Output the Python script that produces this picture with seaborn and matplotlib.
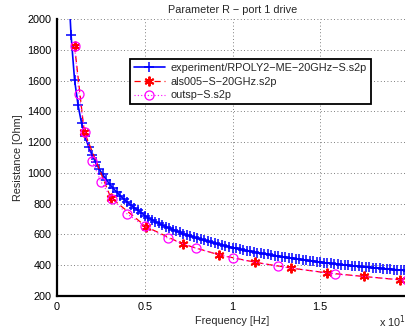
import matplotlib
matplotlib.use("Agg")
import matplotlib.pyplot as plt
import seaborn as sns
import pandas as pd
from matplotlib.ticker import FuncFormatter, MultipleLocator

# ---- data (frequencies in GHz, resistance in Ohm) ----
exp_freq_ghz = [0.6, 0.8, 1.0, 1.2, 1.4, 1.6, 1.8, 2.0, 2.2, 2.4, 2.6, 2.8, 3.0, 3.2, 3.4,
                3.6, 3.8, 4.0, 4.2, 4.4, 4.6, 4.8, 5.0, 5.2, 5.4, 5.6, 5.8, 6.0, 6.2, 6.4,
                6.6, 6.8, 7.0, 7.2, 7.4, 7.6, 7.8, 8.0, 8.2, 8.4, 8.6, 8.8, 9.0, 9.2, 9.4,
                9.6, 9.8, 10.0, 10.2, 10.4, 10.6, 10.8, 11.0, 11.2, 11.4, 11.6, 11.8, 12.0,
                12.2, 12.4, 12.6, 12.8, 13.0, 13.2, 13.4, 13.6, 13.8, 14.0, 14.2, 14.4, 14.6,
                14.8, 15.0, 15.2, 15.4, 15.6, 15.8, 16.0, 16.2, 16.4, 16.6, 16.8, 17.0, 17.2,
                17.4, 17.6, 17.8, 18.0, 18.2, 18.4, 18.6, 18.8, 19.0, 19.2, 19.4, 19.6, 19.8,
                20.0]
exp_res = [2330, 1898, 1605, 1440, 1322, 1238, 1170, 1115, 1068, 1027, 990, 957, 927, 900, 875,
           852, 830, 810, 792, 774, 758, 742, 722, 709, 696, 684, 672, 661, 650, 640,
           631, 622, 613, 605, 597, 589, 582, 575, 568, 561, 555, 549, 543, 537, 531,
           526, 521, 513, 509, 504, 499, 495, 490, 486, 482, 478, 474, 470, 466, 462,
           458, 455, 451, 448, 445, 441, 438, 435, 432, 429, 426, 423, 420, 417, 414,
           412, 409, 407, 404, 402, 399, 397, 395, 392, 390, 388, 386, 384, 382, 380,
           378, 376, 374, 372, 370, 368, 366, 365]

als_freq_ghz = [1.0, 1.55, 3.06, 5.08, 7.16, 9.24, 11.3, 13.35, 15.41, 17.47, 19.54]
als_res = [1825, 1268, 840, 650, 538, 467, 419, 381, 350, 327, 305]

outsp_freq_ghz = [1.0, 1.259, 1.585, 1.995, 2.512, 3.162, 3.981, 5.012, 6.31, 7.943,
                  10.0, 12.59, 15.85, 19.95]
outsp_res = [1825, 1510, 1265, 1080, 940, 828, 735, 652, 576, 509, 446, 393, 343, 302]

labels = ["experiment/RPOLY2\u2212ME\u221220GHz\u2212S.s2p",
          "als005\u2212S\u221220GHz.s2p",
          "outsp\u2212S.s2p"]
title = "Parameter R \u2212 port 1 drive"
xlabel = "Frequency [Hz]"
ylabel = "Resistance [Ohm]"
x_ticks = [0, 0.5e10, 1.0e10, 1.5e10, 2.0e10]

sns.set_style("white")
plt.rcParams["font.family"] = ["Liberation Sans", "DejaVu Sans"]

fs = 7.8
fig = plt.figure(figsize=(4.06, 3.33), dpi=100)
ax = fig.add_axes([57 / 406, 37 / 333, 351 / 406, 277 / 333])

df_exp = pd.DataFrame({"f": [v * 1e9 for v in exp_freq_ghz], "r": exp_res})
df_als = pd.DataFrame({"f": [v * 1e9 for v in als_freq_ghz], "r": als_res})
df_out = pd.DataFrame({"f": [v * 1e9 for v in outsp_freq_ghz], "r": outsp_res})

sns.lineplot(data=df_exp, x="f", y="r", ax=ax, color=(0, 0, 1), linewidth=1.2,
             marker="+", markersize=6.5, markeredgewidth=1.1, markeredgecolor=(0, 0, 1),
             estimator=None, sort=False, label=labels[0])
sns.lineplot(data=df_als, x="f", y="r", ax=ax, color=(1, 0, 0), linewidth=0.9,
             linestyle=(0, (5, 3)), marker=(6, 2, 0), markersize=7, markeredgewidth=1.4,
             markeredgecolor=(1, 0, 0), estimator=None, sort=False, label=labels[1])
sns.lineplot(data=df_out, x="f", y="r", ax=ax, color=(1, 0, 1), linewidth=0.8,
             linestyle=(0, (1, 2)), marker="o", markersize=6.5, markerfacecolor="none",
             markeredgewidth=0.9, markeredgecolor=(1, 0, 1),
             estimator=None, sort=False, label=labels[2])

ax.set_xlim(0, 2e10)
ax.set_ylim(200, 2000)
ax.set_xticks(x_ticks)
ax.xaxis.set_major_formatter(FuncFormatter(lambda v, p: ("%g" % (v / 1e10))))
ax.yaxis.set_major_locator(MultipleLocator(200))
ax.grid(True, linestyle=(0, (1, 3)), color="#555555", linewidth=0.6)
ax.tick_params(direction="in", length=3, width=0.8, labelsize=fs, colors="black",
               pad=4)
for s in ["top", "right"]:
    ax.spines[s].set_visible(False)
for s in ["left", "bottom"]:
    ax.spines[s].set_linewidth(1.6)
    ax.spines[s].set_color("black")

ax.set_title(title, fontsize=fs, pad=4)
ax.set_xlabel(xlabel, fontsize=fs, labelpad=3)
ax.set_ylabel(ylabel, fontsize=fs, labelpad=3)
fig.text(379 / 406, 1 - 322 / 333, "x 10$^{10}$", fontsize=fs, va="center", ha="left")

leg = ax.legend(loc="upper left", bbox_to_anchor=(130 / 406, 1 - 59 / 333),
                bbox_transform=fig.transFigure, fontsize=fs, frameon=True,
                fancybox=False, edgecolor="black", framealpha=1, borderpad=0.35,
                handlelength=2.9, handletextpad=0.5, labelspacing=0.35, borderaxespad=0)
leg.get_frame().set_linewidth(1.3)

fig.savefig("out.png", dpi=100)
